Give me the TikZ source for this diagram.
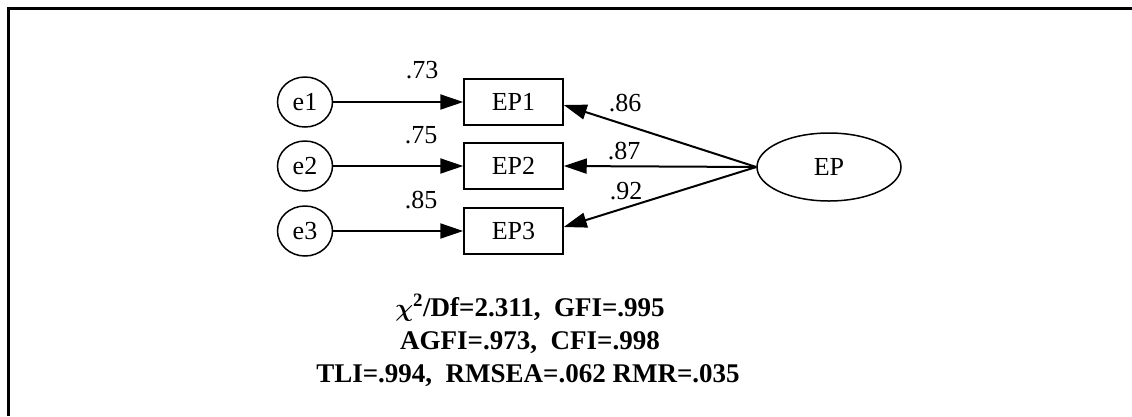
\documentclass[tikz,border=0pt]{standalone}
\usepackage{fontspec}
\setmainfont{Liberation Serif}
\usetikzlibrary{arrows.meta,shapes.geometric}
\begin{document}
\begin{tikzpicture}[x=1pt,y=-1pt,
  every node/.style={font=\fontsize{26}{30}\selectfont, inner sep=0pt},
  errnode/.style={draw, line width=1.5pt, ellipse, minimum width=55pt, minimum height=50pt},
  obsnode/.style={draw, line width=1.5pt, rectangle, minimum width=99pt, minimum height=46pt},
  latnode/.style={draw, line width=1.5pt, ellipse, minimum width=144pt, minimum height=68pt},
  arr/.style={line width=2pt, -{Triangle[length=23pt,width=15pt]}},
  lbl/.style={font=\fontsize{26}{30}\selectfont},
  fit/.style={font=\fontsize{27}{30}\selectfont\bfseries, anchor=base},
  frame/.style={line width=2.5pt}
]
\useasboundingbox (0,0) rectangle (1132,416);
% frame (only top and left edges visible)
\coordinate (fbl) at (8.5,416);
\coordinate (ftl) at (8.5,8.5);
\coordinate (ftr) at (1132,8.5);
\draw[frame] (fbl) -- (ftl) -- (ftr);

% error terms
\node[errnode] (e1) at (305,102) {e1};
\node[errnode] (e2) at (305,166) {e2};
\node[errnode] (e3) at (305,231) {e3};

% observed
\node[obsnode] (EP1) at (513.5,102) {EP1};
\node[obsnode] (EP2) at (513.5,166) {EP2};
\node[obsnode] (EP3) at (513.5,231) {EP3};

% latent
\node[latnode] (EP) at (829,167) {EP};

% arrows
\draw[arr] (e1) -- (EP1);
\draw[arr] (e2) -- (EP2);
\draw[arr] (e3) -- (EP3);
\draw[arr] (EP.west) -- ([yshift=-3pt]EP1.east);
\draw[arr] (EP.west) -- (EP2.east);
\draw[arr] (EP.west) -- ([yshift=4pt]EP3.east);

% labels
\node[lbl] (l1) at (422,70) {.73};
\node[lbl] (l2) at (421,135) {.75};
\node[lbl] (l3) at (421,200) {.85};
\node[lbl] (l4) at (625,103) {.86};
\node[lbl] (l5) at (624,151) {.87};
\node[lbl] (l6) at (626,191) {.92};

% fit indices
\node[fit] (fit1) at (530,316) {{\boldmath$\chi$}\textsuperscript{2}/Df=2.311,\ \ GFI=.995};
\node[fit] (fit2) at (530,349) {AGFI=.973,\ \ CFI=.998};
\node[fit] (fit3) at (528,382) {TLI=.994,\ \ RMSEA=.062 RMR=.035};
\end{tikzpicture}
\end{document}
